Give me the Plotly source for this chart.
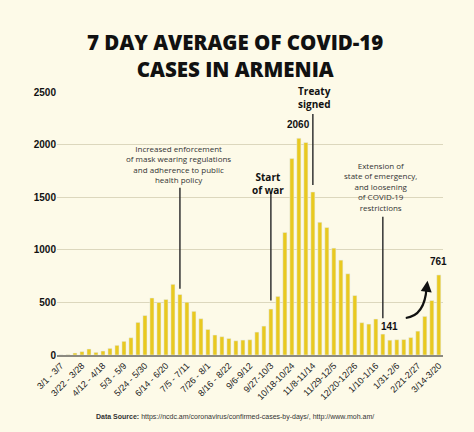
import plotly.graph_objects as go

week_labels = ["3/1 - 3/7", "3/22 - 3/28", "4/12 - 4/18", "5/3 - 5/9", "5/24 - 5/30",
               "6/14 - 6/20", "7/5 - 7/11", "7/26 - 8/1", "8/16 - 8/22", "9/6-9/12",
               "9/27-10/3", "10/18-10/24", "11/8-11/14", "11/29-12/5", "12/20-12/26",
               "1/10-1/16", "1/31-2/6", "2/21-2/27", "3/14-3/20"]

cases = [1, 4, 19, 32, 57, 25, 38, 63, 92, 130,
         164, 310, 375, 542, 500, 528, 672, 575, 502, 415,
         345, 243, 190, 174, 157, 135, 142, 145, 218, 275,
         437, 557, 1165, 1867, 2060, 2020, 1550, 1262, 1212, 1016,
         902, 772, 565, 307, 294, 342, 199, 141, 145, 147,
         166, 227, 367, 518, 761]

y_ticks = [0, 500, 1000, 1500, 2000, 2500]

BG = "#fdfae8"
BAR = "#e9c920"
GRID = "#dcd7bd"
x = list(range(len(cases)))
tick_pos = list(range(0, len(cases), 3))

fig = go.Figure()
fig.add_trace(go.Bar(x=x, y=cases, marker_color=BAR, width=0.58, hoverinfo="skip"))

ann_font = dict(family="Open Sans", size=8, color="#333333")
bold_font = dict(family="Open Sans", size=10, color="#111111", weight="bold")
num_font = dict(family="Liberation Sans", size=10, color="#111111", weight="bold")
title_font = dict(family="Open Sans", size=20.5, color="#111111", weight=800)

PLOT_H = 263.0  # plot area height in px, for paper-placed labels

annotations = [
    dict(x=16.85, y=1600, text="Increased enforcement<br>of mask wearing regulations<br>and adherence to public<br>health policy",
         font=ann_font, yanchor="bottom"),
    dict(x=29.6, y=1632, text="Start<br>of war", font=bold_font, yanchor="middle"),
    dict(x=45.7, y=1330, text="Extension of<br>state of emergency,<br>and loosening<br>of COVID-19<br>restrictions",
         font=ann_font, yanchor="bottom"),
    dict(x=34, y=cases[34], text="2060", font=num_font, yanchor="bottom", yshift=6),
    dict(x=47, y=cases[47], text="141", font=num_font, yanchor="bottom", yshift=6),
    dict(x=54, y=cases[54], text="761", font=num_font, yanchor="bottom", yshift=6),
]
for a in annotations:
    a.update(xref="x", yref="y", showarrow=False, xanchor="center")

# "Treaty signed" sits at the very top edge of the plot, so place it in paper units
annotations.append(dict(x=36.3, y=257.7 / PLOT_H, xref="x", yref="paper", text="Treaty<br>signed",
                        font=bold_font, showarrow=False, xanchor="center", yanchor="middle"))

# curved arrow head
annotations.append(dict(x=52.39, y=705, ax=52.22, ay=610, xref="x", yref="y", axref="x", ayref="y",
                        text="", showarrow=True, arrowhead=2, arrowwidth=2.2, arrowsize=1,
                        arrowcolor="#111111"))

# title
annotations.append(dict(x=0.462, y=1 + 37 / PLOT_H, xref="paper", yref="paper", showarrow=False,
                        text="7 DAY AVERAGE OF COVID-19<br>CASES IN ARMENIA", font=title_font,
                        xanchor="center", yanchor="middle"))

annotations.append(dict(x=0.46, y=-0.236, xref="paper", yref="paper", showarrow=False,
                        text="<b>Data Source:</b> https://ncdc.am/coronavirus/confirmed-cases-by-days/, http://www.moh.am/",
                        font=dict(family="Liberation Sans", size=7, color="#333333"),
                        xanchor="center", yanchor="middle"))

shapes = [
    dict(type="line", x0=17, x1=17, y0=cases[17] + 55, y1=1590, line=dict(color="#333333", width=1.5)),
    dict(type="line", x0=30, x1=30, y0=cases[30] + 80, y1=1545, line=dict(color="#333333", width=1.5)),
    dict(type="line", x0=36, x1=36, y0=cases[36] + 65, y1=2290, line=dict(color="#333333", width=1.5)),
    dict(type="line", x0=46, x1=46, y0=cases[46] + 150, y1=1315, line=dict(color="#333333", width=1.5)),
    dict(type="path", path="M 49.28,352 Q 52.0,374 52.25,640",
         line=dict(color="#111111", width=2.2)),
]
for s in shapes:
    s.update(xref="x", yref="y", layer="above")

fig.update_layout(
    width=474, height=432,
    paper_bgcolor=BG, plot_bgcolor=BG,
    margin=dict(l=57, r=31, t=92, b=77),
    showlegend=False,
    annotations=annotations,
    shapes=shapes,
    xaxis=dict(range=[-0.57, 54.6], tickmode="array", tickvals=tick_pos, ticktext=week_labels,
               tickangle=-45, tickfont=dict(family="Liberation Sans", size=9, color="#222222"),
               showgrid=False, zeroline=False, showline=True, linecolor="#8c8a80", linewidth=2,
               ticks=""),
    yaxis=dict(range=[0, 2500], tickmode="array", tickvals=y_ticks,
               tickfont=dict(family="Liberation Sans", size=10, color="#111111", weight="bold"),
               showgrid=True, gridcolor=GRID, gridwidth=1, zeroline=False, showline=False, ticks=""),
    bargap=0.4,
)

fig.write_html("out.html", config={"displayModeBar": False},
               post_script="document.body.style.margin='0';document.body.style.background='" + BG + "';")
